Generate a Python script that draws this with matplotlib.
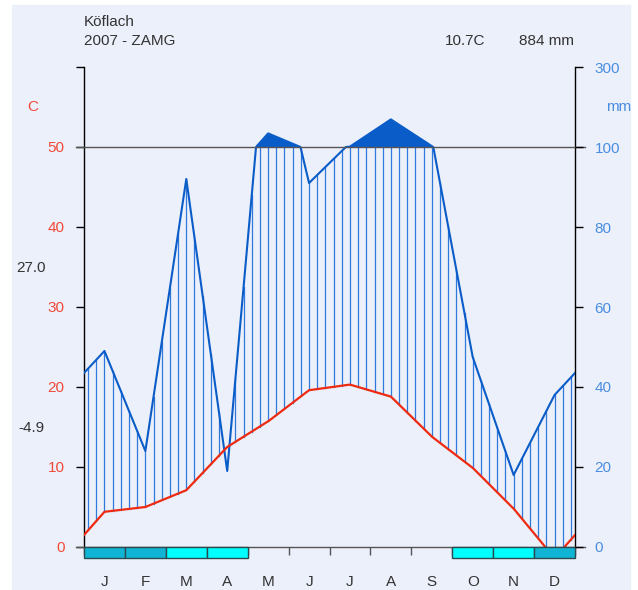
import numpy as np
import matplotlib.pyplot as plt
from matplotlib.patches import Rectangle

plt.rcParams['font.family'] = ['Liberation Sans', 'DejaVu Sans']

station = "Köflach"
source = "2007 - ZAMG"
months = ["J", "F", "M", "A", "M", "J", "J", "A", "S", "O", "N", "D"]

# monthly means
temp = [4.4, 5.0, 7.1, 12.5, 15.7, 19.6, 20.3, 18.8, 13.8, 9.9, 4.8, -1.4]
prec = [49, 24, 92, 19, 134, 91, 101, 169, 102, 47.5, 18, 38]
# 0 = no frost, 1 = probable frost, 2 = frost
frost = [2, 2, 1, 1, 0, 0, 0, 0, 0, 1, 1, 2]

mean_temp = "10.7C"
total_prec = "884 mm"
abs_max = "27.0"
abs_min = "-4.9"

temp_ticks = [0, 10, 20, 30, 40, 50, 60]
temp_labels = ["0", "10", "20", "30", "40", "50", ""]
prec_labels = ["0", "20", "40", "60", "80", "100", "300"]

BG = "#ecf0fa"
BLUE = "#0a5cc8"
HATCH = "#2f78dc"
RED = "#ee2a10"
TXT = "#333333"
FS = 11


def mm_to_scale(mm):
    # 2 mm per degree up to 100 mm, compressed 20 mm per degree above
    mm = np.asarray(mm, dtype=float)
    return np.where(mm <= 100, mm / 2.0, 50 + (mm - 100) / 20.0)


# wrap the year so the curves run to both edges
xc = np.arange(-0.5, 13.0, 1.0)
t_wrap = np.r_[temp[-1], temp, temp[0]]
p_wrap = np.r_[prec[-1], prec, prec[0]]

xf = np.linspace(0, 12, 1201)
tf = np.interp(xf, xc, t_wrap)
pf = mm_to_scale(np.interp(xf, xc, p_wrap))

W, H = 638, 590
fig = plt.figure(figsize=(W / 100, H / 100), dpi=100, facecolor="white")
fig.patches.append(Rectangle((12 / W, 0), 618 / W, 585 / H,
                             transform=fig.transFigure, color=BG, zorder=-10))

ax = fig.add_axes([84 / W, 43 / H, 491 / W, 480 / H])
ax.set_facecolor("none")
ax.set_xlim(0, 12)
ax.set_ylim(0, 60)

# humid period: vertical hatching between temperature and rainfall
xh = np.arange(0.1, 12, 0.2)
th = np.interp(xh, xc, t_wrap)
ph = mm_to_scale(np.interp(xh, xc, p_wrap))
for x, t, p in zip(xh, th, ph):
    if p > t:
        ax.plot([x, x], [max(t, 0), min(p, 50)], color=HATCH, lw=0.9, zorder=2)

# perhumid part above 100 mm
ax.fill_between(xf, 50, pf, where=pf > 50, color=BLUE, lw=0, zorder=3)

ax.plot(xf, pf, color=BLUE, lw=1.5, zorder=4)
ax.plot(xf, tf, color=RED, lw=1.6, zorder=5)

# reference lines at 0 and 50
for yv in (0, 50):
    ax.plot([-0.2, 12.25], [yv, yv], color="#555555", lw=1.0,
            clip_on=False, zorder=6)

# frost bar under the axis
frost_col = {1: "#00ffff", 2: "#10b4d4"}
for i, f in enumerate(frost):
    if f:
        ax.add_patch(Rectangle((i, -1.375), 1, 1.375, facecolor=frost_col[f],
                               edgecolor="#2a4a50", lw=1.0, clip_on=False,
                               zorder=7))

for s in ("top", "bottom"):
    ax.spines[s].set_visible(False)
for s in ("left", "right"):
    ax.spines[s].set_color("black")
    ax.spines[s].set_linewidth(1.0)

ax.set_yticks(temp_ticks)
ax.set_yticklabels(temp_labels)
ax.tick_params(axis="y", length=6, width=1, color="black", pad=8,
               labelcolor="#f04a3a", labelsize=FS)

ax.set_xticks(range(13))
ax.set_xticklabels([])
ax.tick_params(axis="x", which="major", length=6, width=1, color="#555555")
ax.set_xticks(np.arange(0.5, 12, 1.0), minor=True)
ax.set_xticklabels(months, minor=True)
ax.tick_params(axis="x", which="minor", length=0, pad=20, labelsize=FS,
               labelcolor=TXT)

ax2 = ax.twinx()
ax2.set_ylim(0, 60)
ax2.set_yticks(temp_ticks)
ax2.set_yticklabels(prec_labels)
ax2.tick_params(axis="y", length=6, width=1, color="black", pad=8,
                labelcolor="#4a8ee0", labelsize=FS)
for s in ax2.spines.values():
    s.set_visible(False)


def ftext(x, y, s, **kw):
    fig.text(x / W, 1 - y / H, s, va="center", fontsize=FS, **kw)


ftext(84, 22, station, color=TXT)
ftext(84, 41, source, color=TXT)
ftext(445, 41, mean_temp, color=TXT)
ftext(519, 41, total_prec, color=TXT)
ftext(27, 107, "C", color="#f04a3a")
ftext(606, 107, "mm", color="#4a8ee0")
ftext(16, 268, abs_max, color=TXT)
ftext(18, 428, abs_min, color=TXT)

fig.savefig("out.png", dpi=100, facecolor="white")
